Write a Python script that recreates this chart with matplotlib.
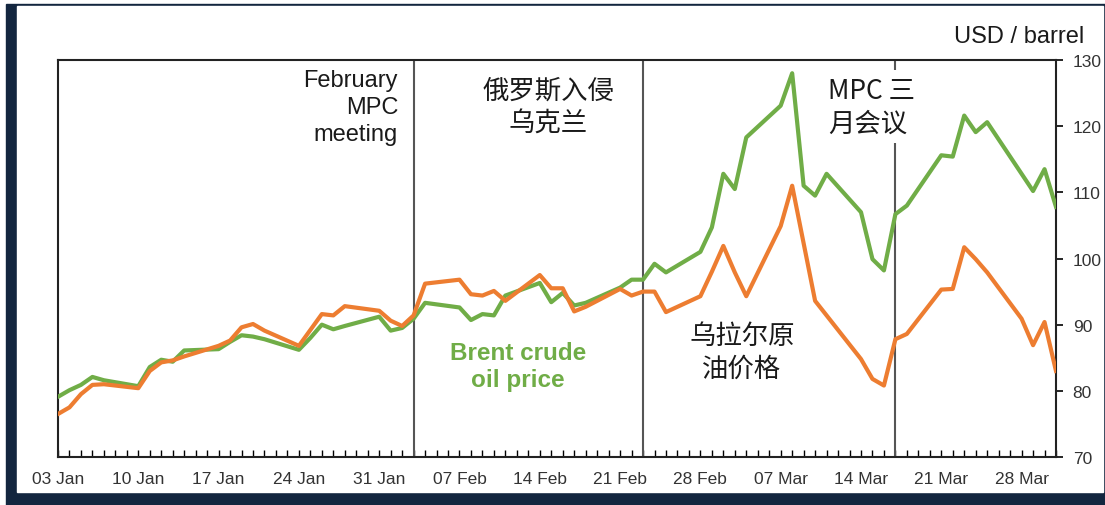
import numpy as np
import pandas as pd
import matplotlib
matplotlib.use('Agg')
import matplotlib.pyplot as plt
import matplotlib.dates as mdates
from matplotlib.patches import Rectangle

plt.rcParams['font.family'] = ['Liberation Sans', 'Noto Sans CJK SC', 'DejaVu Sans']

# trading days, Jan - Mar 2022
dates = pd.bdate_range('2022-01-03', '2022-03-31')

brent = [79.1, 80.1, 80.9, 82.1, 81.6,
         80.7, 83.6, 84.7, 84.4, 86.1,
         86.3, 87.4, 88.4, 88.2, 87.8,
         86.2, 88.0, 90.0, 89.3, 89.8,
         91.2, 89.1, 89.5, 90.9, 93.3,
         92.6, 90.7, 91.6, 91.4, 94.4,
         96.3, 93.4, 94.8, 92.9, 93.3,
         95.6, 96.8, 96.8, 99.2, 97.9,
         101.0, 104.7, 112.8, 110.5, 118.3,
         123.1, 128.0, 111.0, 109.5, 112.8,
         107.0, 99.9, 98.2, 106.7, 108.0,
         115.6, 115.4, 121.6, 119.1, 120.6,
         112.8, 110.2, 113.5, 107.8]

urals = [76.5, 77.5, 79.5, 80.9, 81.0,
         80.4, 83.0, 84.3, 84.6, 85.2,
         86.8, 87.6, 89.6, 90.1, 89.1,
         86.8, 89.2, 91.6, 91.4, 92.8,
         92.1, 90.6, 89.8, 91.4, 96.2,
         96.8, 94.6, 94.4, 95.1, 93.6,
         97.5, 95.5, 95.5, 92.0, 92.7,
         95.4, 94.4, 95.0, 95.0, 91.9,
         94.3, 98.0, 101.9, 97.9, 94.3,
         104.9, 111.0, 102.3, 93.6, 91.4,
         84.8, 81.8, 80.8, 87.8, 88.6,
         95.3, 95.4, 101.7, 99.9, 97.9,
         90.9, 86.9, 90.4, 83.0]

events = pd.to_datetime(['2022-02-03', '2022-02-23', '2022-03-17'])
yticks = [70, 80, 90, 100, 110, 120, 130]

W, H = 1105, 506


def fx(px):
    return px / W


def fy(py):
    return 1 - py / H


fig = plt.figure(figsize=(W / 100, H / 100), dpi=100)

# navy frame behind everything
fig.patches.append(Rectangle((fx(6), 0), fx(W - 6), fy(5), transform=fig.transFigure,
                             color='#13263f', zorder=-3))
fig.patches.append(Rectangle((fx(17), fy(493)), fx(1103 - 17), fy(7) - fy(493),
                             transform=fig.transFigure, color='white', zorder=-2))

ax = fig.add_axes([fx(58), fy(458), fx(1056 - 58), fy(61) - fy(458)])
ax.set_facecolor('white')

ax.plot(dates, brent, color='#70AD47', lw=3, zorder=3)
ax.plot(dates, urals, color='#ED7D31', lw=3, zorder=3)

for d in events:
    ax.axvline(d, color='#555555', lw=1.5, zorder=2)

ax.set_xlim(pd.Timestamp('2022-01-03'), pd.Timestamp('2022-03-31'))
ax.set_ylim(70, 130)

ax.yaxis.tick_right()
ax.set_yticks(yticks)
ax.tick_params(axis='y', direction='out', length=5, width=1.2, pad=7,
               labelsize=12.5, labelcolor='#333333')

ax.xaxis.set_major_locator(mdates.WeekdayLocator(byweekday=mdates.MO))
ax.xaxis.set_major_formatter(mdates.DateFormatter('%d %b'))
ax.xaxis.set_minor_locator(mdates.DayLocator())
ax.tick_params(axis='x', which='both', direction='in', length=5, width=1, pad=10,
               labelsize=12.5, labelcolor='#333333')

for s in ax.spines.values():
    s.set_color('#222222')
    s.set_linewidth(1.5)

# annotations
fig.text(fx(398), fy(70), 'February\nMPC\nmeeting', ha='right', va='top',
         fontsize=17, color='#1a1a1a', linespacing=1.3)
fig.text(fx(548), fy(78), '俄罗斯入侵\n乌克兰', ha='center', va='top',
         fontsize=19, color='#1a1a1a', linespacing=1.25, family=['Noto Sans CJK SC'])
fig.text(fx(828), fy(78), 'MPC 三\n月会议', ha='left', va='top',
         fontsize=19, color='#1a1a1a', linespacing=1.25, family=['Noto Sans CJK SC'],
         zorder=5, bbox=dict(facecolor='white', edgecolor='none', pad=5))
fig.text(fx(742), fy(323), '乌拉尔原\n油价格', ha='center', va='top',
         fontsize=19, color='#1a1a1a', linespacing=1.25, family=['Noto Sans CJK SC'])
fig.text(fx(518), fy(342), 'Brent crude\noil price', ha='center', va='top',
         fontsize=17.5, color='#70AD47', fontweight='bold', linespacing=1.2)
fig.text(fx(1084), fy(37), 'USD / barrel', ha='right', va='center',
         fontsize=17, color='#1a1a1a')

fig.savefig('out.png', dpi=100)
